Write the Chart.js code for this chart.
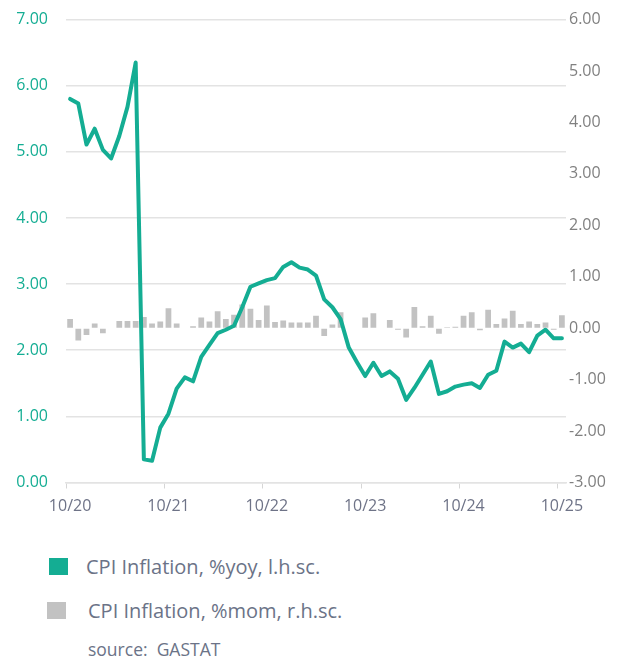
<!DOCTYPE html>
<html>
<head>
<meta charset="utf-8">
<script src="https://cdn.jsdelivr.net/npm/chart.js@4.4.1/dist/chart.umd.min.js"></script>
<style>
  html, body { margin: 0; padding: 0; background: #ffffff; }
  body { width: 630px; height: 661px; position: relative; overflow: hidden; font-family: "Open Sans", sans-serif; }
  #chart-box { position: absolute; left: 0; top: -8px; width: 630px; height: 533px; }
  .legend-item { position: absolute; display: flex; align-items: center; color: #6b7387; font-size: 20px; }
  .swatch { position: absolute; width: 19px; height: 17px; }
  #source { position: absolute; left: 88px; top: 637px; color: #6b7387; font-size: 17.5px; }
</style>
</head>
<body>
<div id="chart-box"><canvas id="cpi-chart"></canvas></div>

<div class="swatch" style="left:49px; top:558px; background:#14ad93;"></div>
<div class="legend-item" style="left:86px; top:553px;">CPI Inflation, %yoy, l.h.sc.</div>
<div class="swatch" style="left:47px; top:602px; background:#c2c2c2;"></div>
<div class="legend-item" style="left:88px; top:597px;">CPI Inflation, %mom, r.h.sc.</div>
<div id="source">source:&nbsp; GASTAT</div>

<script>
// Months from 10/20 to 10/25
const months = [
    '10/20', '11/20', '12/20', '01/21', '02/21', '03/21', '04/21', '05/21', '06/21', '07/21', '08/21', '09/21',
    '10/21', '11/21', '12/21', '01/22', '02/22', '03/22', '04/22', '05/22', '06/22', '07/22', '08/22', '09/22',
    '10/22', '11/22', '12/22', '01/23', '02/23', '03/23', '04/23', '05/23', '06/23', '07/23', '08/23', '09/23',
    '10/23', '11/23', '12/23', '01/24', '02/24', '03/24', '04/24', '05/24', '06/24', '07/24', '08/24', '09/24',
    '10/24', '11/24', '12/24', '01/25', '02/25', '03/25', '04/25', '05/25', '06/25', '07/25', '08/25', '09/25',
    '10/25'
];

// CPI inflation, % year on year (left scale)
const cpiYoy = [
    5.80, 5.73, 5.11, 5.35, 5.03, 4.90, 5.24, 5.68, 6.35, 0.35, 0.33, 0.83,
    1.04, 1.42, 1.59, 1.53, 1.90, 2.08, 2.26, 2.31, 2.37, 2.65, 2.96, 3.01,
    3.06, 3.09, 3.26, 3.33, 3.25, 3.22, 3.13, 2.77, 2.65, 2.47, 2.04, 1.82,
    1.61, 1.81, 1.61, 1.68, 1.57, 1.25, 1.43, 1.63, 1.83, 1.34, 1.38, 1.45,
    1.48, 1.50, 1.43, 1.63, 1.69, 2.13, 2.04, 2.10, 1.97, 2.22, 2.31, 2.18,
    2.18
];

// CPI inflation, % month on month (right scale)
const cpiMom = [
    0.18, -0.24, -0.13, 0.09, -0.10, 0.00, 0.14, 0.14, 0.14, 0.22, 0.09, 0.13,
    0.39, 0.09, 0.00, 0.04, 0.21, 0.13, 0.33, 0.18, 0.26, 0.46, 0.38, 0.16,
    0.44, 0.12, 0.15, 0.11, 0.11, 0.11, 0.24, -0.15, 0.07, 0.31, 0.00, 0.00,
    0.21, 0.29, 0.00, 0.16, -0.03, -0.18, 0.41, 0.04, 0.24, -0.11, 0.02, 0.03,
    0.24, 0.31, -0.04, 0.36, 0.08, 0.19, 0.34, 0.08, 0.13, 0.08, 0.11, -0.03,
    0.25
];

// Only October gets a label and a tick mark
const yearLabels = ['10/20', '10/21', '10/22', '10/23', '10/24', '10/25'];

const teal = '#14ad93';
const barGrey = '#c2c2c2';
const gridGrey = '#e3e3e3';

const ctx = document.getElementById('cpi-chart');
new Chart(ctx, {
    type: 'bar',
    data: {
        labels: months,
        datasets: [
            {
                type: 'line',
                label: 'CPI Inflation, %yoy, l.h.sc.',
                data: cpiYoy,
                yAxisID: 'y',
                borderColor: teal,
                backgroundColor: teal,
                borderWidth: 4,
                pointRadius: 0,
                tension: 0,
                borderJoinStyle: 'round',
                borderCapStyle: 'round',
                order: 0
            },
            {
                type: 'bar',
                label: 'CPI Inflation, %mom, r.h.sc.',
                data: cpiMom,
                yAxisID: 'y1',
                backgroundColor: barGrey,
                barPercentage: 0.7,
                categoryPercentage: 1.0,
                order: 1
            }
        ]
    },
    options: {
        responsive: true,
        maintainAspectRatio: false,
        animation: false,
        layout: { padding: { top: 0, left: 0, right: 0, bottom: 0 } },
        plugins: {
            legend: { display: false },
            tooltip: { enabled: false }
        },
        scales: {
            x: {
                offset: true,
                grid: {
                    offset: true,
                    drawOnChartArea: false,
                    drawTicks: true,
                    tickLength: 6,
                    color: c => (c.index !== undefined && c.index % 12 === 0) ? '#d6d6d6' : 'rgba(0,0,0,0)'
                },
                border: { display: true, color: gridGrey, width: 1.5 },
                ticks: {
                    autoSkip: false,
                    maxRotation: 0,
                    padding: 8,
                    color: '#6e7387',
                    font: { family: 'Open Sans', size: 16 },
                    callback: function(value, index) {
                        const lab = months[index];
                        return yearLabels.includes(lab) ? lab : '';
                    }
                },
                afterFit: axis => { axis.height = 42.5; }
            },
            y: {
                position: 'left',
                min: 0,
                max: 7,
                grid: { color: gridGrey, lineWidth: 1.5, drawTicks: false },
                border: { display: false },
                ticks: {
                    stepSize: 1,
                    padding: 18,
                    color: teal,
                    font: { family: 'Open Sans', size: 16 },
                    callback: v => v.toFixed(2)
                },
                afterFit: axis => { axis.width = 66; }
            },
            y1: {
                position: 'right',
                min: -3,
                max: 6,
                grid: { drawOnChartArea: false, drawTicks: false },
                border: { display: false },
                ticks: {
                    stepSize: 1,
                    padding: 3,
                    color: '#808080',
                    font: { family: 'Open Sans', size: 16 },
                    callback: v => v.toFixed(2)
                },
                afterFit: axis => { axis.width = 64; }
            }
        }
    }
});
</script>
</body>
</html>
